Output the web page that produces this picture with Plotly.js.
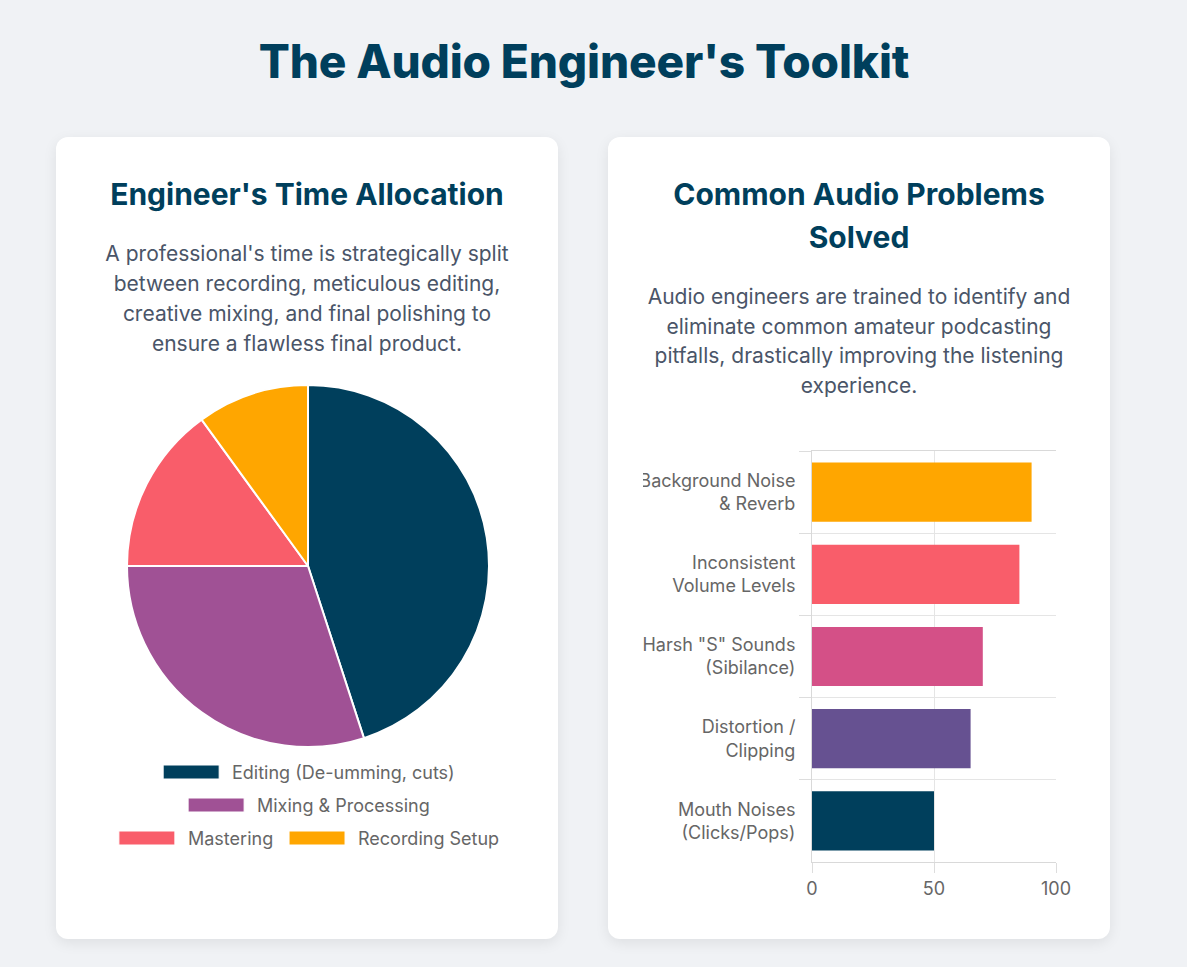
<!DOCTYPE html>
<html>
<head>
<meta charset="utf-8">
<script src="https://cdn.plot.ly/plotly-3.0.1.min.js"></script>
<style>
  html, body { margin: 0; padding: 0; }
  body { width: 1187px; height: 967px; background: #f0f2f5; font-family: Inter, "Noto Sans", sans-serif; position: relative; overflow: hidden; }
  h1 { position: absolute; top: 33px; left: 0; width: 1168px; margin: 0; text-align: center; font-size: 46px; line-height: 56px; font-weight: 800; color: #003f5c; letter-spacing: -0.15px; }
  .card { position: absolute; top: 137px; width: 502px; height: 802px; background: #fff; border-radius: 12px; box-shadow: 0 4px 14px rgba(0,0,0,0.08); }
  .card h2 { position: absolute; left: 0; width: 100%; top: 36px; margin: 0; text-align: center; font-size: 30px; line-height: 43px; font-weight: 700; color: #003f5c; }
  .card p { position: absolute; left: 0; width: 100%; margin: 0; text-align: center; font-size: 21px; color: #4a5568; }
  .chart { position: absolute; }
</style>
</head>
<body>
<h1>The Audio Engineer's Toolkit</h1>

<div class="card" style="left:56px;">
  <h2>Engineer's Time Allocation</h2>
  <p style="top:102px; line-height:30px;">A professional's time is strategically split<br>between recording, meticulous editing,<br>creative mixing, and final polishing to<br>ensure a flawless final product.</p>
</div>

<div class="card" style="left:608px;">
  <h2>Common Audio Problems<br>Solved</h2>
  <p style="top:145px; line-height:29.5px;">Audio engineers are trained to identify and<br>eliminate common amateur podcasting<br>pitfalls, drastically improving the listening<br>experience.</p>
</div>

<div id="pie" class="chart" style="left:56px; top:375px; width:502px; height:500px;"></div>
<div id="bar" class="chart" style="left:643px; top:440px; width:447px; height:465px;"></div>

<script>
// ---- Data ----
const timeLabels = ["Editing (De-umming, cuts)", "Mixing & Processing", "Mastering", "Recording Setup"];
const timeValues = [45, 30, 15, 10];
const timeColors = ["#003f5c", "#a05195", "#f95d6a", "#ffa600"];

const problemLabels = ["Background Noise<br>& Reverb", "Inconsistent<br>Volume Levels", "Harsh \"S\" Sounds<br>(Sibilance)", "Distortion /<br>Clipping", "Mouth Noises<br>(Clicks/Pops)"];
const problemValues = [90, 85, 70, 65, 50];
const problemColors = ["#ffa600", "#f95d6a", "#d45087", "#665191", "#003f5c"];

const xTicks = [0, 50, 100];

// ---- Pie chart ----
const PW = 502, PH = 500;
const pieCx = 252, pieCy = 191, pieR = 181;

// Legend (Chart.js-like centered rows) built from labels/colors
const legendRows = [[0], [1], [2, 3]];
const legendRowY = [397, 430, 463];
const legendFont = 18;
const boxW = 56, boxH = 14, boxGap = 11, itemPad = 18;
const ctx = document.createElement("canvas").getContext("2d");
ctx.font = legendFont + "px Inter";
const shapes = [], annotations = [];
legendRows.forEach((row, ri) => {
  const widths = row.map(i => boxW + boxGap + ctx.measureText(timeLabels[i]).width);
  const total = widths.reduce((a, b) => a + b, 0) + itemPad * (row.length - 1);
  let x = pieCx - total / 2;
  const y = legendRowY[ri];
  row.forEach((i, k) => {
    shapes.push({type: "rect", xref: "paper", yref: "paper",
      x0: x / PW, x1: (x + boxW) / PW, y0: 1 - (y + boxH / 2) / PH, y1: 1 - (y - boxH / 2) / PH,
      fillcolor: timeColors[i], line: {color: "#ffffff", width: 1}});
    annotations.push({xref: "paper", yref: "paper", x: (x + boxW + boxGap) / PW, y: 1 - y / PH,
      xanchor: "left", yanchor: "middle", showarrow: false, text: timeLabels[i],
      font: {family: "Inter", size: legendFont, color: "#666666"}});
    x += widths[k] + itemPad;
  });
});

Plotly.newPlot("pie", [{
  type: "pie",
  labels: timeLabels,
  values: timeValues,
  sort: false,
  direction: "clockwise",
  rotation: 0,
  marker: {colors: timeColors, line: {color: "#ffffff", width: 2}},
  textinfo: "none",
  hovertemplate: "%{label}: %{value}%<extra></extra>",
  domain: {x: [(pieCx - pieR) / PW, (pieCx + pieR) / PW], y: [1 - (pieCy + pieR) / PH, 1 - (pieCy - pieR) / PH]}
}], {
  width: PW, height: PH,
  margin: {l: 0, r: 0, t: 0, b: 0},
  paper_bgcolor: "rgba(0,0,0,0)",
  showlegend: false,
  shapes: shapes,
  annotations: annotations,
  font: {family: "Inter"}
}, {displayModeBar: false, responsive: false});

// ---- Bar chart ----
Plotly.newPlot("bar", [{
  type: "bar",
  orientation: "h",
  y: problemLabels,
  x: problemValues,
  marker: {color: problemColors},
  width: 0.72,
  hovertemplate: "%{x}<extra></extra>"
}], {
  width: 447, height: 465,
  margin: {l: 169, r: 34, t: 11, b: 43, autoexpand: false},
  paper_bgcolor: "rgba(0,0,0,0)",
  plot_bgcolor: "#ffffff",
  showlegend: false,
  font: {family: "Inter", size: 18, color: "#666666"},
  xaxis: {
    range: [0, 100], tickvals: xTicks, ticktext: xTicks.map(String),
    showgrid: true, gridcolor: "#e5e5e5", gridwidth: 1, zeroline: false,
    showline: true, linecolor: "#d9d9d9", linewidth: 1, mirror: true,
    ticks: "outside", ticklen: 10, tickcolor: "#dddddd",
    tickfont: {size: 18, color: "#666666"}, fixedrange: true, automargin: false
  },
  yaxis: {
    type: "category", autorange: "reversed",
    tickson: "boundaries", showgrid: true, gridcolor: "#e5e5e5", gridwidth: 1,
    showline: true, linecolor: "#d9d9d9", linewidth: 1,
    ticks: "outside", ticklen: 12, tickcolor: "#dddddd",
    ticklabelstandoff: 12,
    tickfont: {size: 18, color: "#666666"}, fixedrange: true, automargin: false
  }
}, {displayModeBar: false, responsive: false});
</script>
</body>
</html>
